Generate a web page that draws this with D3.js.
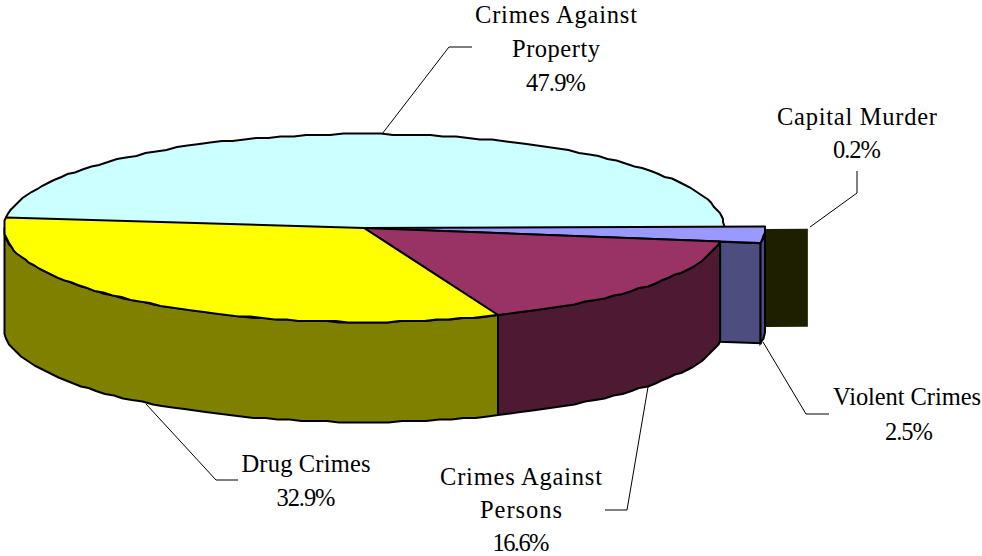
<!DOCTYPE html>
<html>
<head>
<meta charset="utf-8">
<script src="https://cdn.jsdelivr.net/npm/d3@7"></script>
<style>
  html, body { margin: 0; padding: 0; background: #fff; }
  text { font-family: "Liberation Serif", serif; font-size: 24.5px; fill: #000; }
</style>
</head>
<body>
<div id="chart-area"></div>
<script>
const categories = ['Crimes Against Property', 'Drug Crimes', 'Crimes Against Persons', 'Violent Crimes', 'Capital Murder'];
const values = [47.9, 32.9, 16.6, 2.5, 0.2];
const topColors = ['#ccffff', '#ffff00', '#993366', '#9999ff', '#1e1e00'];
const sideColors = ['#667f7f', '#808000', '#4d1933', '#4d4d80', '#1e1e00'];

const width = 982;
const height = 556;
const depth = 100;
const startDeg = -1.3;
const grid = 1.5; // the outline is stepped, like a low resolution metafile
// how far each slice reaches out of the pie
const reach = [1, 1, 1, 1.114, 1.233];

const svg = d3.select('#chart-area')
  .append('svg')
  .attr('width', width)
  .attr('height', height)
  .style('display', 'block');

const x = d3.scaleLinear().domain([-1, 1]).range([4, 724]);
const y = d3.scaleLinear().domain([-1, 1]).range([134, 322]);

const pie = d3.pie().sort(null).value((d) => d);
const slices = pie(values).map((s, i) => {
  return {
    a0: startDeg - s.startAngle * 180 / Math.PI,
    a1: startDeg - s.endAngle * 180 / Math.PI,
    r: reach[i],
    i: i
  };
});

const snap = (v) => Math.round(v / grid) * grid;
const pt = (deg, r) => {
  const t = deg * Math.PI / 180;
  return [x(r * Math.cos(t)), y(r * Math.sin(t))];
};
// points along a slice's rim, from a0 towards a1
const arcPts = (s, stepDeg, limit) => {
  const from = limit === undefined ? s.a0 : Math.min(s.a0, limit);
  return d3.range(from, s.a1, -stepDeg).concat([s.a1])
    .map((d) => pt(d, s.r))
    .map((p) => [snap(p[0]), snap(p[1])]);
};
const line = d3.line();
const shift = (pts) => pts.map((p) => [p[0], p[1] + depth]);
const centre = [x(0), y(0)];

// capital murder is only its cut face, with no outline
const murder = slices[4];
const mOut = pt(murder.a0, murder.r);
const mIn = pt(murder.a0, slices[3].r);
svg.append('path')
  .attr('d', line([[mIn[0], mIn[1] + 2], [mOut[0], mOut[1] + 2], [mOut[0], mOut[1] + depth], [mIn[0], mIn[1] + depth]]) + 'Z')
  .attr('fill', sideColors[4]);

// violent crimes faces
const violent = slices[3];
const vArc = arcPts(violent, 3);
const vFront = pt(violent.a0, violent.r);
const vCutIn = pt(violent.a0, 1);
svg.append('path')
  .attr('d', line([vCutIn, vFront, [vFront[0], vFront[1] + depth], [vCutIn[0], vCutIn[1] + depth]]) + 'Z')
  .attr('fill', sideColors[3]).attr('stroke', '#000').attr('stroke-width', 2);
svg.append('path')
  .attr('d', line(vArc.concat(shift(vArc).reverse())) + 'Z')
  .attr('fill', sideColors[3]).attr('stroke', '#000').attr('stroke-width', 2);

// outer walls of persons and drug crimes, the drug wall stops at the left edge
[[slices[2], undefined], [slices[1], -180]].forEach(([s, limit]) => {
  const arc = arcPts(s, 2, limit);
  svg.append('path')
    .attr('d', line(arc.concat(shift(arc).reverse())) + 'Z')
    .attr('fill', sideColors[s.i]).attr('stroke', '#000').attr('stroke-width', 2)
    .attr('stroke-linejoin', 'round');
});

// top faces, back to front
[slices[0], slices[3], slices[2], slices[1]].forEach((s) => {
  const arc = arcPts(s, 2);
  const d = line([centre].concat(arc)) + 'Z';
  svg.append('path')
    .attr('d', d)
    .attr('fill', topColors[s.i])
    .attr('stroke', s.i === 0 ? 'none' : '#000')
    .attr('stroke-width', 2)
    .attr('stroke-linejoin', 'round');
  if (s.i === 0) {
    // property keeps a black arc and a faint edge on the right
    svg.append('path').attr('d', line(arc)).attr('fill', 'none')
      .attr('stroke', '#000').attr('stroke-width', 2);
    svg.append('path').attr('d', line([arc[0], centre])).attr('fill', 'none')
      .attr('stroke', '#6a8a8a').attr('stroke-width', 1);
  }
});

// labels: one row per text line
const labelLines = [
  [categories[0].replace(' Property', ''), 556, 23, 162],
  ['Property', 556, 57, 88],
  [values[0].toFixed(1) + '%', 556, 91, 60],
  ['Capital Murder', 857, 125, 160],
  [values[4].toFixed(1) + '%', 857, 158, 48],
  ['Violent Crimes', 907, 405, 148],
  [values[3].toFixed(1) + '%', 909, 440, 48],
  ['Drug Crimes', 306, 472, 129],
  [values[1].toFixed(1) + '%', 306, 506, 59],
  [categories[2].replace(' Persons', ''), 521, 485, 162],
  ['Persons', 521, 518, 82],
  [values[2].toFixed(1) + '%', 521, 550.5, 57]
];

svg.selectAll('text.label')
  .data(labelLines)
  .enter()
  .append('text')
  .attr('class', 'label')
  .attr('x', (d) => d[1])
  .attr('y', (d) => d[2])
  .attr('text-anchor', 'middle')
  .attr('textLength', (d) => d[3])
  .attr('lengthAdjust', 'spacing')
  .text((d) => d[0]);

const leaders = [
  [[472, 47], [449, 47], [382, 134]],
  [[857, 171], [857, 193], [810, 227]],
  [[763, 342], [806, 414], [829, 414]],
  [[146, 404], [216, 480], [238, 480]],
  [[648, 387], [627, 510], [605, 510]]
];

svg.selectAll('path.leader')
  .data(leaders)
  .enter()
  .append('path')
  .attr('class', 'leader')
  .attr('d', (d) => line(d))
  .attr('fill', 'none')
  .attr('stroke', '#000')
  .attr('stroke-width', 1);
</script>
</body>
</html>
